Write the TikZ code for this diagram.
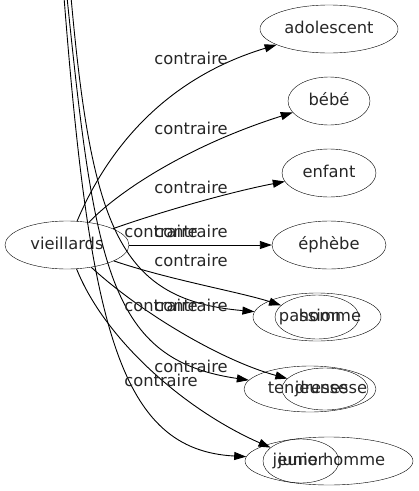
\documentclass[tikz,border=0pt]{standalone}
\usepackage{fontspec}
\setmainfont{DejaVu Sans}
\usetikzlibrary{shapes.geometric,arrows.meta}
\begin{document}
\begin{tikzpicture}
	[x=1pt,y=-1pt,
	every node/.style={font=\fontsize{16.3}{19}\selectfont,text=black!85,text height=12pt,text depth=4pt},
	word/.style={ellipse,draw,inner sep=0pt,minimum height=48pt},
	rel/.style={inner sep=0pt},
	link/.style={-{Triangle[length=12pt,width=8pt]},line width=0.9pt}]
	\useasboundingbox (0,0) rectangle (419,491);
	\node[word,minimum width=124pt] (vieillards) at (67,245) {vieillards};
	\node[word,minimum width=138pt] (adolescent) at (329,29) {adolescent};
	\node[word,minimum width=82pt] (bebe) at (329,101) {bébé};
	\node[word,minimum width=94pt] (enfant) at (329,173) {enfant};
	\node[word,minimum width=114pt] (ephebe) at (329,245) {éphèbe};
	\node[word,minimum width=128pt] (passion) at (317,317) {};
	\node[word,minimum width=84pt,minimum height=44pt] (homme) at (317,317) {};
	\node at ([xshift=-7pt]passion.center) {passion};
	\node at ([xshift=13pt]homme.center) {homme};
	\node[word,minimum width=132pt,minimum height=46pt] (tendresse) at (310,389) {};
	\node[word,minimum width=86pt,minimum height=42pt] (jeunesse) at (325,389) {};
	\node at ([xshift=-2pt]tendresse.center) {tendresse};
	\node at ([xshift=6pt]jeunesse.center) {jeunesse};
	\node[word,minimum width=168pt] (jeunehomme) at (329,461) {jeune homme};
	\node[word,minimum width=76pt,minimum height=44pt] (junior) at (301,461) {junior};
	\coordinate (haut1) at (71,-3);
	\coordinate (haut2) at (67,-3);
	\coordinate (haut3) at (64,-3);
	\draw[link] (vieillards) .. controls (105,155) and (160,80) .. (adolescent);
	\draw[link] (vieillards) .. controls (120,190) and (190,145) .. (bebe);
	\draw[link] (vieillards) .. controls (160,212) and (230,192) .. (enfant);
	\draw[link] (vieillards) -- (ephebe);
	\draw[link] (vieillards) .. controls (170,280) and (240,292) .. (homme);
	\draw[link] (vieillards) .. controls (140,312) and (220,360) .. (jeunesse);
	\draw[link] (vieillards) .. controls (105,340) and (185,410) .. (junior);
	\draw[link] (haut1) .. controls (92,230) and (120,300) .. (passion);
	\draw[link] (haut2) .. controls (95,270) and (110,360) .. (tendresse);
	\draw[link] (haut3) .. controls (90,330) and (120,450) .. (jeunehomme);
	\node[rel] (c1) at (191,60) {contraire};
	\node[rel] (c2) at (191,130) {contraire};
	\node[rel] (c3) at (191,189) {contraire};
	\node[rel] (c4) at (191,233) {contraire};
	\node[rel] (c5) at (191,262) {contraire};
	\node[rel] (c6) at (191,307) {contraire};
	\node[rel] (c7) at (191,368) {contraire};
	\node[rel] (c8) at (161,233) {contraire};
	\node[rel] (c9) at (161,307) {contraire};
	\node[rel] (c10) at (161,382) {contraire};
\end{tikzpicture}
\end{document}
